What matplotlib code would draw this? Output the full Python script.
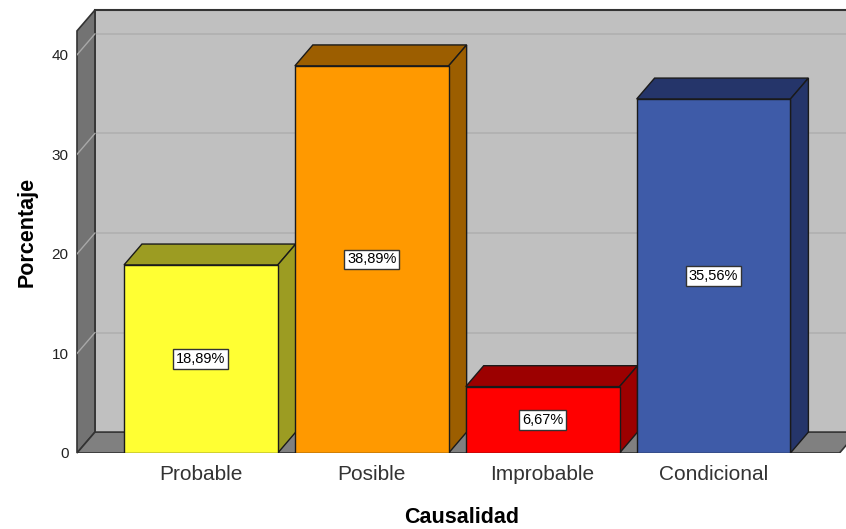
import matplotlib.pyplot as plt
from matplotlib.patches import Polygon

categorias = ["Probable", "Posible", "Improbable", "Condicional"]
porcentajes = [18.89, 38.89, 6.67, 35.56]
etiquetas = ["18,89%", "38,89%", "6,67%", "35,56%"]
frente = ["#ffff33", "#ff9900", "#ff0000", "#3e5ba8"]
lateral = ["#9c9c22", "#9c5e00", "#9c0000", "#25356a"]

# 3D depth offset (data units) and frame limits
DX, DY = 0.105, 2.1
x0, x1 = -0.725, 3.775
xfloor = 3.737
ytop = 42.4
W = 0.9

fig = plt.figure(figsize=(8.46, 5.29), dpi=100)
ax = fig.add_axes([77 / 846, (529 - 453) / 529, (846 - 77) / 846, 443 / 529])
ax.set_xlim(x0, x1)
ax.set_ylim(0, ytop + DY)
for s in ax.spines.values():
    s.set_visible(False)
ax.set_facecolor("none")

# back wall
ax.add_patch(Polygon([(x0 + DX, DY), (x1 + 1, DY), (x1 + 1, ytop + DY), (x0 + DX, ytop + DY)],
                     closed=True, facecolor="#c0c0c0", edgecolor="none", zorder=0))
ax.plot([x0 + DX, x1], [ytop + DY, ytop + DY], color="#333333", lw=1.5, zorder=1, clip_on=False)
ax.plot([x0 + DX, x0 + DX], [DY, ytop + DY], color="#333333", lw=1.2, zorder=1)

# left wall
ax.add_patch(Polygon([(x0, 0), (x0, ytop), (x0 + DX, ytop + DY), (x0 + DX, DY)],
                     closed=True, facecolor="#737373", edgecolor="#333333", lw=1.2, zorder=1, clip_on=False))

# floor
ax.add_patch(Polygon([(x0, 0), (xfloor, 0), (xfloor + DX, DY), (x0 + DX, DY)],
                     closed=True, facecolor="#808080", edgecolor="#333333", lw=1.2, zorder=1, clip_on=True))

# grid
ticks = [0, 10, 20, 30, 40]
for t in ticks[1:]:
    ax.plot([x0 + DX, x1], [t + DY, t + DY], color="#b0b0b0", lw=1.2, zorder=0.5)
    ax.plot([x0, x0 + DX], [t, t + DY], color="#a8a8a8", lw=1, zorder=1.5)

# bars
xs = list(range(len(categorias)))
ax.bar(xs, porcentajes, width=W, color=frente, edgecolor="#1a1a1a", lw=1, zorder=3)
for x, v, c in zip(xs, porcentajes, lateral):
    l, r = x - W / 2, x + W / 2
    ax.add_patch(Polygon([(l, v), (r, v), (r + DX, v + DY), (l + DX, v + DY)],
                         closed=True, facecolor=c, edgecolor="#1a1a1a", lw=1, zorder=2))
    ax.add_patch(Polygon([(r, 0), (r, v), (r + DX, v + DY), (r + DX, DY)],
                         closed=True, facecolor=c, edgecolor="#1a1a1a", lw=1, zorder=2))

for x, v, t in zip(xs, porcentajes, etiquetas):
    ax.text(x, v / 2, t, ha="center", va="center", fontsize=10.5, family="Liberation Sans", zorder=5,
            bbox=dict(boxstyle="square,pad=0.2", facecolor="white", edgecolor="#333333", lw=1))

ax.set_xticks(xs)
ax.set_xticklabels(categorias, fontsize=15, family="Liberation Sans", color="#333333")
ax.set_yticks(ticks)
ax.set_yticklabels([str(t) for t in ticks], fontsize=11, family="Liberation Sans", color="#222222")
ax.tick_params(axis="both", length=0)
ax.tick_params(axis="x", pad=9)
ax.tick_params(axis="y", pad=6)
ax.set_xlabel("Causalidad", fontsize=15.5, fontweight="bold", family="Liberation Sans", labelpad=16)
ax.set_ylabel("Porcentaje", fontsize=15.5, fontweight="bold", family="Liberation Sans", labelpad=10)

fig.savefig("out.png", dpi=100)
